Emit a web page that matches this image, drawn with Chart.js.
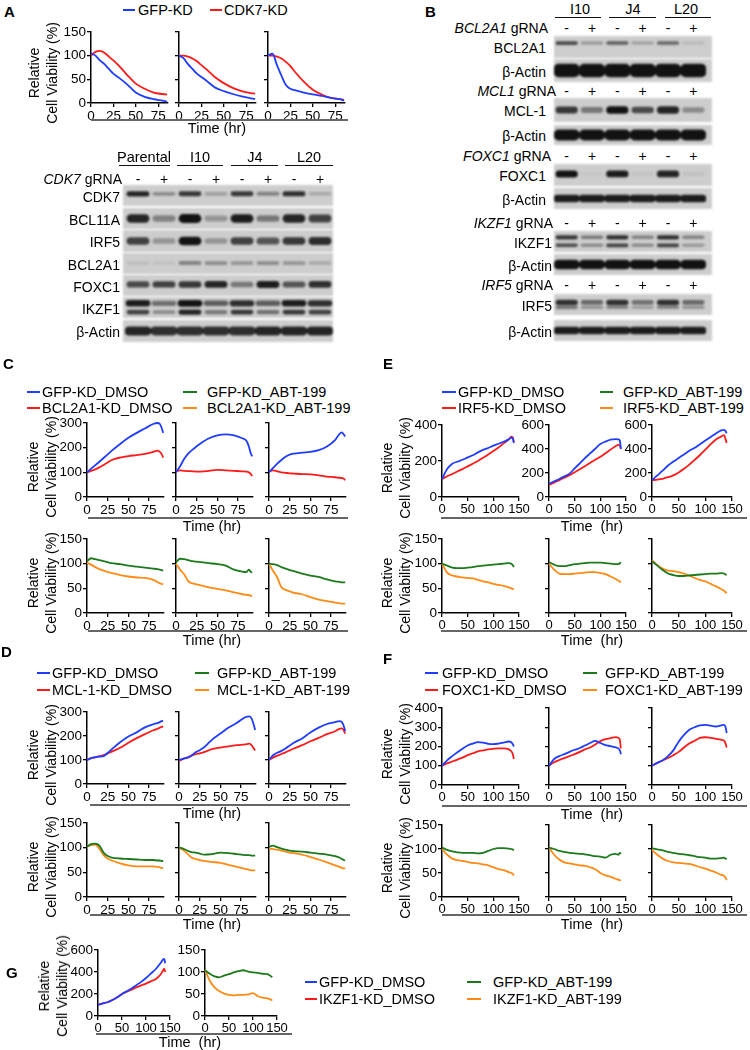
<!DOCTYPE html>
<html>
<head>
<meta charset="utf-8">
<title>Cell viability and immunoblots</title>
<script src="https://cdn.jsdelivr.net/npm/chart.js@4.4.1/dist/chart.umd.min.js"></script>
<style>
  body { margin: 0; background: #fff; }
  #fig { position: relative; width: 750px; height: 1050px; overflow: hidden;
         font-family: 'Liberation Sans', Arial, sans-serif; color: #000; }
  #fig canvas { position: absolute; }
  .t { position: absolute; white-space: nowrap; line-height: 1; }
  .ln { position: absolute; }
  .yt { position: absolute; white-space: nowrap; text-align: center; line-height: 18px;
        font-size: 14px; transform: translate(-50%, -50%) rotate(-90deg); }
</style>
</head>
<body>
<div id="fig"></div>
<script>
// ---------- data ----------
// time points (hr)
const T_A = [0, 5, 10, 15, 20, 25, 30, 40, 50, 60, 70, 80, 85];
const T_S = [0, 5, 10, 15, 20, 25, 30, 40, 50, 60, 70, 80, 85, 88, 90, 92];
const T_L = [0, 10, 20, 30, 40, 50, 60, 70, 80, 90, 100, 110, 120, 130, 135, 138, 140];

const X_TICKS_75 = [0, 25, 50, 75];
const X_TICKS_150 = [0, 50, 100, 150];
const Y_TICKS_150 = [0, 50, 100, 150];
const Y_TICKS_300 = [0, 100, 200, 300];
const Y_TICKS_400 = [0, 100, 200, 300, 400];
const Y_TICKS_600 = [0, 200, 400, 600];

// panel A: GFP-KD vs CDK7-KD, three clones
const A1_GFP = [105, 100, 90, 82, 72, 62, 55, 40, 22, 13, 8, 5, 3];
const A1_CDK7 = [100, 108, 110, 106, 98, 90, 81, 60, 41, 30, 22, 19, 18];
const A2_GFP = [100, 95, 82, 72, 62, 55, 48, 33, 25, 19, 14, 10, 8];
const A2_CDK7 = [100, 100, 98, 94, 88, 80, 72, 55, 42, 32, 25, 21, 20];
const A3_GFP = [100, 104, 80, 58, 38, 30, 27, 22, 18, 15, 11, 8, 5];
const A3_CDK7 = [100, 100, 98, 94, 87, 78, 66, 45, 28, 18, 11, 8, 7];

// GD = GFP-KD_DMSO, KD = gene-KD_DMSO, GA = GFP-KD_ABT-199, KA = gene-KD_ABT-199
const C1_GD = [100, 115, 129, 143, 158, 173, 188, 215, 240, 260, 278, 296, 300, 296, 282, 260];
const C1_KD = [100, 106, 112, 120, 130, 140, 150, 160, 166, 170, 175, 183, 188, 183, 175, 160];
const C1_GA = [105, 111, 109, 107, 105, 103, 101, 99, 96, 94, 92, 90, 89, 88, 87, 86];
const C1_KA = [102, 98, 93, 89, 86, 83, 81, 77, 74, 72, 71, 67, 63, 60, 59, 58];
const C2_GD = [100, 125, 155, 177, 192, 206, 218, 238, 250, 254, 250, 238, 228, 205, 180, 165];
const C2_KD = [105, 108, 106, 105, 104, 103, 103, 106, 110, 108, 106, 104, 103, 100, 95, 85];
const C2_GA = [103, 110, 109, 107, 105, 104, 103, 101, 99, 96, 88, 84, 83, 88, 84, 82];
const C2_KA = [100, 88, 78, 64, 60, 58, 56, 52, 49, 46, 42, 38, 37, 36, 35, 35];
const C3_GD = [100, 118, 135, 150, 163, 172, 176, 180, 183, 190, 205, 232, 255, 262, 255, 245];
const C3_KD = [105, 108, 104, 100, 98, 96, 95, 93, 92, 88, 83, 80, 78, 77, 75, 68];
const C3_GA = [100, 99, 97, 93, 90, 87, 85, 80, 76, 73, 68, 64, 63, 62, 62, 62];
const C3_KA = [100, 85, 72, 52, 47, 44, 41, 38, 32, 27, 24, 21, 20, 19, 19, 19];

const D1_GD = [100, 108, 112, 114, 116, 130, 145, 174, 198, 215, 236, 249, 254, 258, 262, 264];
const D1_KD = [100, 108, 111, 116, 120, 127, 135, 151, 172, 191, 208, 224, 230, 235, 238, 240];
const D1_GA = [102, 107, 108, 104, 90, 83, 80, 78, 77, 76, 75, 75, 74, 74, 73, 73];
const D1_KA = [102, 105, 106, 98, 85, 78, 74, 68, 64, 62, 62, 62, 61, 60, 59, 58];
const D2_GD = [100, 105, 110, 118, 132, 141, 152, 185, 210, 235, 255, 278, 282, 270, 250, 225];
const D2_KD = [96, 105, 110, 118, 124, 128, 133, 145, 152, 157, 162, 165, 168, 160, 150, 140];
const D2_GA = [100, 98, 94, 91, 90, 88, 86, 87, 90, 89, 87, 85, 85, 84, 84, 84];
const D2_KA = [100, 95, 88, 80, 77, 75, 73, 71, 69, 65, 61, 57, 55, 54, 54, 54];
const D3_GD = [100, 120, 130, 138, 148, 160, 172, 190, 215, 235, 250, 258, 262, 258, 245, 220];
const D3_KD = [100, 110, 118, 125, 132, 140, 148, 162, 178, 192, 208, 220, 230, 232, 225, 210];
const D3_GA = [102, 104, 101, 98, 96, 94, 93, 92, 90, 88, 86, 83, 80, 77, 75, 74];
const D3_KA = [98, 97, 96, 94, 92, 90, 89, 86, 81, 76, 70, 64, 61, 59, 58, 58];

const E1_GD = [100, 155, 185, 196, 207, 220, 232, 248, 262, 272, 285, 296, 307, 320, 330, 325, 300];
const E1_KD = [100, 115, 128, 142, 155, 170, 185, 200, 218, 236, 255, 275, 298, 320, 335, 330, 305];
const E1_GA = [100, 96, 92, 91, 91, 92, 93, 95, 96, 97, 98, 99, 100, 101, 100, 97, 93];
const E1_KA = [100, 82, 76, 74, 72, 71, 70, 67, 64, 62, 59, 57, 55, 52, 50, 49, 48];
const E2_GD = [110, 130, 150, 172, 195, 238, 281, 324, 363, 402, 441, 462, 478, 482, 480, 470, 400];
const E2_KD = [100, 120, 140, 161, 182, 207, 232, 257, 283, 310, 335, 365, 395, 425, 435, 430, 400];
const E2_GA = [103, 98, 95, 95, 97, 99, 100, 101, 102, 102, 102, 101, 100, 99, 99, 101, 103];
const E2_KA = [100, 88, 80, 79, 79, 80, 81, 82, 83, 83, 81, 79, 74, 69, 66, 64, 62];
const E3_GD = [140, 180, 220, 262, 295, 325, 355, 385, 410, 440, 470, 500, 530, 555, 560, 550, 530];
const E3_KD = [140, 145, 152, 165, 180, 205, 235, 270, 310, 350, 395, 440, 480, 505, 515, 480, 450];
const E3_GA = [105, 96, 87, 80, 77, 75, 75, 76, 77, 78, 79, 80, 80, 81, 80, 78, 77];
const E3_KA = [107, 97, 90, 86, 85, 83, 80, 76, 71, 67, 64, 59, 54, 48, 45, 42, 40];

const F1_GD = [100, 128, 150, 170, 188, 205, 215, 223, 220, 214, 212, 215, 220, 226, 222, 212, 200];
const F1_KD = [100, 112, 122, 132, 142, 155, 165, 175, 180, 185, 188, 190, 190, 185, 175, 160, 135];
const F1_GA = [103, 98, 95, 93, 92, 92, 92, 91, 92, 96, 100, 102, 102, 101, 100, 99, 97];
const F1_KA = [100, 88, 80, 77, 75, 73, 71, 70, 68, 66, 62, 58, 56, 52, 50, 48, 45];
const F2_GD = [100, 135, 150, 160, 172, 183, 192, 205, 218, 229, 218, 207, 202, 195, 190, 180, 160];
const F2_KD = [100, 118, 130, 140, 150, 160, 172, 185, 195, 210, 228, 238, 244, 249, 245, 235, 190];
const F2_GA = [103, 100, 96, 94, 92, 91, 90, 89, 87, 85, 84, 82, 88, 90, 88, 92, 90];
const F2_KA = [103, 88, 78, 72, 70, 68, 66, 65, 62, 58, 50, 45, 42, 38, 36, 35, 34];
const F3_GD = [100, 115, 128, 150, 180, 225, 260, 287, 300, 310, 312, 308, 304, 310, 312, 300, 270];
const F3_KD = [100, 115, 127, 140, 155, 172, 195, 215, 230, 245, 248, 245, 240, 235, 230, 215, 195];
const F3_GA = [102, 99, 97, 94, 92, 90, 89, 87, 85, 83, 82, 80, 80, 81, 82, 80, 79];
const F3_KA = [98, 88, 80, 75, 72, 71, 70, 69, 66, 62, 59, 55, 51, 46, 44, 40, 35];

const G_GD = [100, 115, 125, 145, 170, 200, 225, 250, 280, 310, 345, 385, 425, 480, 510, 520, 480];
const G_KD = [100, 115, 125, 145, 170, 200, 220, 240, 260, 278, 295, 315, 335, 375, 410, 430, 400];
const G_GA = [104, 96, 90, 88, 92, 95, 99, 102, 104, 101, 99, 98, 96, 95, 92, 90, 88];
const G_KA = [105, 80, 65, 56, 51, 48, 47, 48, 48, 49, 52, 45, 42, 40, 38, 37, 35];

// western blots: band intensity per lane (0 = none, 1 = saturated)
const A_LANES = ['Parental -', 'Parental +', 'I10 -', 'I10 +', 'J4 -', 'J4 +', 'L20 -', 'L20 +'];
const A_SIGNS = ['-', '+', '-', '+', '-', '+', '-', '+'];
const BLOT_A_CDK7 = [0.9, 0.35, 0.8, 0.25, 0.8, 0.4, 0.85, 0.2];
const BLOT_A_BCL11A = [0.9, 0.4, 1, 0.3, 0.95, 0.45, 0.9, 0.75];
const BLOT_A_IRF5 = [0.75, 0.3, 1, 0.3, 0.75, 0.65, 0.8, 0.85];
const BLOT_A_BCL2A1 = [0.08, 0.06, 0.4, 0.35, 0.3, 0.35, 0.3, 0.2];
const BLOT_A_FOXC1 = [0.7, 0.75, 0.8, 0.9, 0.45, 0.95, 0.65, 0.85];
const BLOT_A_IKZF1_UP = [0.95, 0.5, 1, 0.6, 0.85, 0.6, 0.95, 0.85];
const BLOT_A_IKZF1_LO = [0.75, 0.35, 0.9, 0.45, 0.8, 0.5, 0.8, 0.75];
const BLOT_A_ACTIN = [0.9, 0.85, 0.85, 0.85, 0.85, 0.9, 0.9, 0.9];

const B_LANES = ['I10 -', 'I10 +', 'J4 -', 'J4 +', 'L20 -', 'L20 +'];
const B_SIGNS = ['-', '+', '-', '+', '-', '+'];
const BLOT_B_BCL2A1 = [0.7, 0.3, 0.6, 0.25, 0.55, 0.12];
const BLOT_B_ACTIN1 = [1, 1, 1, 1, 1, 1];
const BLOT_B_MCL1 = [0.8, 0.45, 1, 0.7, 0.9, 0.35];
const BLOT_B_ACTIN2 = [1, 1, 1, 1, 1, 1];
const BLOT_B_FOXC1 = [1, 0.03, 0.95, 0.05, 0.9, 0.06];
const BLOT_B_ACTIN3 = [0.95, 0.95, 0.95, 0.95, 0.95, 0.95];
const BLOT_B_IKZF1_UP = [0.8, 0.45, 0.85, 0.4, 0.85, 0.4];
const BLOT_B_IKZF1_LO = [0.7, 0.4, 0.75, 0.4, 0.75, 0.3];
const BLOT_B_ACTIN4 = [1, 1, 1, 1, 1, 1];
const BLOT_B_IRF5_UP = [0.85, 0.55, 0.85, 0.5, 0.85, 0.55];
const BLOT_B_IRF5_LO = [0.5, 0.35, 0.45, 0.3, 0.45, 0.35];
const BLOT_B_ACTIN5 = [0.95, 0.95, 0.95, 0.95, 0.95, 0.95];

// ---------- setup ----------
const BLUE = '#1f3cff', RED = '#ff1a1a', GREEN = '#1c7a1c', ORANGE = '#ff8a14';
const FONT = "'Liberation Sans', Arial, sans-serif";

Chart.defaults.font.family = FONT;
Chart.defaults.color = '#000';
Chart.defaults.animation = false;
Chart.defaults.plugins.legend.display = false;
Chart.defaults.plugins.tooltip.enabled = false;

const fig = document.getElementById('fig');

function txt(html, x, y, o = {}) {
    const d = document.createElement('div');
    d.className = 't';
    d.innerHTML = html;
    const tx = o.a === 'r' ? '-100%' : o.a === 'c' ? '-50%' : '0';
    d.style.left = x + 'px';
    d.style.top = y + 'px';
    d.style.transform = `translate(${tx},-50%)`;
    d.style.fontSize = (o.size || 14) + 'px';
    if (o.bold) d.style.fontWeight = 'bold';
    fig.appendChild(d);
}

function hline(x1, x2, y, color, w) {
    const d = document.createElement('div');
    d.className = 'ln';
    Object.assign(d.style, { left: x1 + 'px', top: (y - w / 2) + 'px', width: (x2 - x1) + 'px', height: w + 'px', background: color });
    fig.appendChild(d);
}

function ytitle(x, y) {
    const d = document.createElement('div');
    d.className = 'yt';
    d.innerHTML = 'Relative<br>Cell Viability (%)';
    d.style.left = x + 'px';
    d.style.top = y + 'px';
    fig.appendChild(d);
}

function timeLabel(x1, x2, yLine, xc, yText, text) {
    hline(x1, x2, yLine, '#666', 1.5);
    txt(text || 'Time (hr)', xc, yText, { a: 'c', size: 14.5 });
}

function legendItem(x1, x2, xt, y, color, label) {
    hline(x1, x2, y, color, 2);
    txt(label, xt, y, { size: 14.5 });
}

function legend(rows, cols, labels, colors) {
    // two rows, two columns: [lineStart, lineEnd, textStart] per column
    labels.forEach((lab, i) => {
        const r = i % 2, c = Math.floor(i / 2);
        legendItem(cols[c][0], cols[c][1], cols[c][2], rows[r], colors[i], lab);
    });
}

// line charts
const PAD_L = 32, PAD_R = 16, PAD_T = 9, PAD_B = 22;

function viab(x0, yTop, w, h, xMax, xTicks, yTicks, showY, curves) {
    const c = document.createElement('canvas');
    const W = w + PAD_L + PAD_R, H = h + PAD_T + PAD_B;
    c.width = W;
    c.height = H;
    c.style.left = (x0 - PAD_L) + 'px';
    c.style.top = (yTop - PAD_T) + 'px';
    fig.appendChild(c);

    const axisGrid = { display: true, drawOnChartArea: false, drawTicks: true, tickLength: 4, color: '#000', lineWidth: 1.3 };
    new Chart(c, {
        type: 'line',
        data: {
            datasets: curves.map(([t, v, col]) => ({
                data: v.map((y, i) => ({ x: t[i], y })),
                borderColor: col,
                borderWidth: 1.8,
                pointRadius: 0,
                cubicInterpolationMode: 'monotone',
                fill: false,
                clip: false,
            }))
        },
        options: {
            responsive: false,
            layout: { padding: { left: 0, right: PAD_R, top: PAD_T, bottom: 0 } },
            scales: {
                x: {
                    type: 'linear', min: 0, max: xMax,
                    afterBuildTicks: s => { s.ticks = xTicks.map(v => ({ value: v })); },
                    ticks: { font: { size: xMax > 100 ? 13 : 13.5 }, padding: 1, maxRotation: 0, autoSkip: false },
                    grid: axisGrid,
                    border: { display: true, color: '#000', width: 1.5 },
                    afterFit: s => { s.height = PAD_B; s.paddingLeft = 0; s.paddingRight = 0; }
                },
                y: {
                    min: 0, max: yTicks[yTicks.length - 1],
                    afterBuildTicks: s => { s.ticks = yTicks.map(v => ({ value: v })); },
                    ticks: { font: { size: 13.5 }, padding: 1, callback: showY ? (v => v) : (() => '') },
                    grid: axisGrid,
                    border: { display: true, color: '#000', width: 1.5 },
                    afterFit: s => { s.width = PAD_L; s.paddingTop = 0; s.paddingBottom = 0; }
                }
            }
        }
    });
}

// blot strips
const blotBg = {
    id: 'blotBg',
    beforeDraw(chart) {
        const { ctx, width, height } = chart;
        ctx.save();
        ctx.fillStyle = '#cdcdcd';
        ctx.fillRect(0, 0, width, height);
        ctx.restore();
    }
};

function blot(x, y, w, h, pad, lanes, layers) {
    const c = document.createElement('canvas');
    c.width = w;
    c.height = h;
    c.style.left = x + 'px';
    c.style.top = y + 'px';
    c.style.filter = 'blur(0.9px)';
    fig.appendChild(c);
    new Chart(c, {
        type: 'bar',
        data: {
            labels: lanes,
            datasets: layers.map(([vals, cen, th, bw]) => ({
                data: vals.map(v => {
                    const t = th * (0.55 + 0.45 * v);
                    return [cen - t / 2, cen + t / 2];
                }),
                backgroundColor: vals.map(v => `rgba(18,18,18,${v})`),
                barPercentage: bw || 0.88,
                categoryPercentage: 1,
                borderRadius: 5,
                borderSkipped: false,
                grouped: false,
            }))
        },
        options: {
            responsive: false,
            layout: { padding: { left: pad[0], right: pad[1], top: 0, bottom: 0 } },
            scales: {
                x: { display: false },
                y: { display: false, min: 0, max: 1, reverse: true }
            }
        },
        plugins: [blotBg]
    });
}

function laneSigns(x, w, pad, signs, y) {
    const lw = (w - pad[0] - pad[1]) / signs.length;
    signs.forEach((s, i) => txt(s, x + pad[0] + (i + 0.5) * lw, y, { a: 'c', size: 14 }));
}

// ---------- panel A ----------
txt('A', 4, 11, { bold: true, size: 15 });
legendItem(123, 135, 138, 10, BLUE, 'GFP-KD');
legendItem(210, 222, 224, 10, RED, 'CDK7-KD');
const A_X = [91, 179, 268];
[[A1_GFP, A1_CDK7], [A2_GFP, A2_CDK7], [A3_GFP, A3_CDK7]].forEach(([g, k], i) => {
    viab(A_X[i], 32, 77, 71, 86, X_TICKS_75, Y_TICKS_150, i === 0, [[T_A, g, BLUE], [T_A, k, RED]]);
});
ytitle(43, 73);
timeLabel(91, 348, 120, 217, 128);

// blot A
[['Parental', 144, 119, 170], ['I10', 200, 177, 223], ['J4', 255, 231, 278], ['L20', 309, 285, 333]].forEach(([s, xc, x1, x2]) => {
    txt(s, xc, 157, { a: 'c', size: 14.5 });
    hline(x1, x2, 165.5, '#111', 1.5);
});
const A_BX = 123, A_BW = 210, A_PAD = [2, 0];
txt('<i>CDK7</i> gRNA', 122, 179, { a: 'r', size: 14 });
laneSigns(A_BX, A_BW, A_PAD, A_SIGNS, 179);
[
    ['CDK7', 185, 21, [[BLOT_A_CDK7, 0.42, 0.26]]],
    ['BCL11A', 208, 21, [[BLOT_A_BCL11A, 0.5, 0.42]]],
    ['IRF5', 230, 22, [[BLOT_A_IRF5, 0.5, 0.38]]],
    ['BCL2A1', 253, 21, [[BLOT_A_BCL2A1, 0.48, 0.26]]],
    ['FOXC1', 275, 21, [[BLOT_A_FOXC1, 0.45, 0.34]]],
    ['IKZF1', 297, 21, [[BLOT_A_IKZF1_UP, 0.3, 0.32, 0.95], [BLOT_A_IKZF1_LO, 0.72, 0.26]]],
    ['β-Actin', 320, 22, [[BLOT_A_ACTIN, 0.5, 0.4, 1]]],
].forEach(([name, y, h, layers]) => {
    blot(A_BX, y, A_BW, h, A_PAD, A_LANES, layers);
    txt(name, 120, y + h / 2 + 1, { a: 'r', size: 14 });
});

// ---------- panel B ----------
txt('B', 425, 11, { bold: true, size: 15 });
[['I10', 580, 555, 601], ['J4', 633, 609, 656], ['L20', 686, 665, 711]].forEach(([s, xc, x1, x2]) => {
    txt(s, xc, 9, { a: 'c', size: 14.5 });
    hline(x1, x2, 17.5, '#111', 1.5);
});
const B_BX = 554, B_BW = 158, B_PAD = [0, 6];
[['BCL2A1', 28, 548], ['MCL1', 91, 556], ['FOXC1', 156, 551], ['IKZF1', 223, 553], ['IRF5', 285, 553]].forEach(([g, y, xr]) => {
    txt(`<i>${g}</i> gRNA`, xr, y, { a: 'r', size: 14 });
    laneSigns(B_BX, B_BW, B_PAD, B_SIGNS, y);
});
[
    ['BCL2A1', 36, 22, 546, [[BLOT_B_BCL2A1, 0.32, 0.2]]],
    ['β-Actin', 59, 23, 546, [[BLOT_B_ACTIN1, 0.5, 0.55, 1]]],
    ['MCL-1', 98, 24, 546, [[BLOT_B_MCL1, 0.5, 0.32]]],
    ['β-Actin', 125, 20, 546, [[BLOT_B_ACTIN2, 0.5, 0.52, 1]]],
    ['FOXC1', 164, 22, 546, [[BLOT_B_FOXC1, 0.45, 0.32]]],
    ['β-Actin', 188, 21, 546, [[BLOT_B_ACTIN3, 0.5, 0.34, 1]]],
    ['IKZF1', 231, 21, 552, [[BLOT_B_IKZF1_UP, 0.3, 0.22], [BLOT_B_IKZF1_LO, 0.68, 0.2]]],
    ['β-Actin', 254, 21, 552, [[BLOT_B_ACTIN4, 0.5, 0.42, 1]]],
    ['IRF5', 294, 21, 552, [[BLOT_B_IRF5_LO, 0.64, 0.18], [BLOT_B_IRF5_UP, 0.4, 0.28]]],
    ['β-Actin', 320, 21, 552, [[BLOT_B_ACTIN5, 0.5, 0.34, 1]]],
].forEach(([name, y, h, xr, layers]) => {
    blot(B_BX, y, B_BW, h, B_PAD, B_LANES, layers);
    txt(name, xr, y + h / 2 + 1, { a: 'r', size: 14 });
});

// ---------- panels C-F ----------
function abtPanel(p) {
    txt(p.letter, p.lx, p.ly, { bold: true, size: 15 });
    legend(p.legRows, p.legCols,
        ['GFP-KD_DMSO', p.kd + '-KD_DMSO', 'GFP-KD_ABT-199', p.kd + '-KD_ABT-199'],
        [BLUE, RED, GREEN, ORANGE]);
    p.sets.forEach((s, i) => {
        viab(p.xs[i], p.top[0], p.ws[i], p.top[1], p.xMax, p.xTicks, p.yTop[i], p.showTop[i], [[p.t, s[0], BLUE], [p.t, s[1], RED]]);
        viab(p.xs[i], p.bot[0], p.ws[i], p.bot[1], p.xMax, p.xTicks, Y_TICKS_150, i === 0, [[p.t, s[2], GREEN], [p.t, s[3], ORANGE]]);
    });
    ytitle(p.ytx, p.top[0] + (p.top[1] + 14) / 2);
    ytitle(p.ytx, p.bot[0] + (p.bot[1] + 14) / 2);
    timeLabel(p.ul[0], p.ul[1], p.top[0] + p.top[1] + 21, p.tx, p.top[0] + p.top[1] + 29, p.tlab);
    timeLabel(p.ul[0], p.ul[1], p.bot[0] + p.bot[1] + 18, p.tx, p.bot[0] + p.bot[1] + 27, p.tlab);
}

abtPanel({
    letter: 'C', lx: 3, ly: 363, kd: 'BCL2A1',
    legRows: [392, 408], legCols: [[27, 40, 42], [183, 197, 207]],
    xs: [87, 176, 269], ws: [77, 77, 77], xMax: 93, xTicks: X_TICKS_75, t: T_S,
    top: [423, 74], bot: [539, 74], yTop: [Y_TICKS_300, Y_TICKS_300, Y_TICKS_300], showTop: [true, false, false],
    sets: [[C1_GD, C1_KD, C1_GA, C1_KA], [C2_GD, C2_KD, C2_GA, C2_KA], [C3_GD, C3_KD, C3_GA, C3_KA]],
    ytx: 42, ul: [88, 348], tx: 212
});

abtPanel({
    letter: 'D', lx: 1, ly: 651, kd: 'MCL-1',
    legRows: [673, 690], legCols: [[37, 50, 52], [195, 209, 217]],
    xs: [87, 179, 269], ws: [77, 77, 77], xMax: 93, xTicks: X_TICKS_75, t: T_S,
    top: [712, 72], bot: [823, 74], yTop: [Y_TICKS_300, Y_TICKS_300, Y_TICKS_300], showTop: [true, false, false],
    sets: [[D1_GD, D1_KD, D1_GA, D1_KA], [D2_GD, D2_KD, D2_GA, D2_KA], [D3_GD, D3_KD, D3_GA, D3_KA]],
    ytx: 42, ul: [90, 350], tx: 212
});

abtPanel({
    letter: 'E', lx: 383, ly: 363, kd: 'IRF5',
    legRows: [392, 408], legCols: [[442, 456, 458], [600, 613, 623]],
    xs: [442, 549, 652], ws: [77, 77, 80], xMax: 150, xTicks: X_TICKS_150, t: T_L,
    top: [425, 72], bot: [539, 74], yTop: [Y_TICKS_400, Y_TICKS_600, Y_TICKS_600], showTop: [true, true, true],
    sets: [[E1_GD, E1_KD, E1_GA, E1_KA], [E2_GD, E2_KD, E2_GA, E2_KA], [E3_GD, E3_KD, E3_GA, E3_KA]],
    ytx: 396, ul: [441, 747], tx: 592, tlab: 'Time&nbsp; (hr)'
});

abtPanel({
    letter: 'F', lx: 383, ly: 658, kd: 'FOXC1',
    legRows: [673, 690], legCols: [[425, 438, 442], [583, 597, 605]],
    xs: [442, 549, 652], ws: [77, 77, 80], xMax: 150, xTicks: X_TICKS_150, t: T_L,
    top: [708, 77], bot: [825, 72], yTop: [Y_TICKS_400, Y_TICKS_400, Y_TICKS_400], showTop: [true, false, false],
    sets: [[F1_GD, F1_KD, F1_GA, F1_KA], [F2_GD, F2_KD, F2_GA, F2_KA], [F3_GD, F3_KD, F3_GA, F3_KA]],
    ytx: 396, ul: [442, 747], tx: 592, tlab: 'Time&nbsp; (hr)'
});

// ---------- panel G ----------
txt('G', 6, 972, { bold: true, size: 15 });
viab(98, 950, 72, 66, 150, X_TICKS_150, Y_TICKS_600, true, [[T_L, G_GD, BLUE], [T_L, G_KD, RED]]);
viab(205, 950, 72, 66, 150, X_TICKS_150, Y_TICKS_150, true, [[T_L, G_GA, GREEN], [T_L, G_KA, ORANGE]]);
ytitle(53, 986);
timeLabel(96, 292, 1034, 190, 1042, 'Time&nbsp; (hr)');
legend([982, 999], [[305, 317, 319], [467, 481, 493]],
    ['GFP-KD_DMSO', 'IKZF1-KD_DMSO', 'GFP-KD_ABT-199', 'IKZF1-KD_ABT-199'],
    [BLUE, RED, GREEN, ORANGE]);
</script>
</body>
</html>
